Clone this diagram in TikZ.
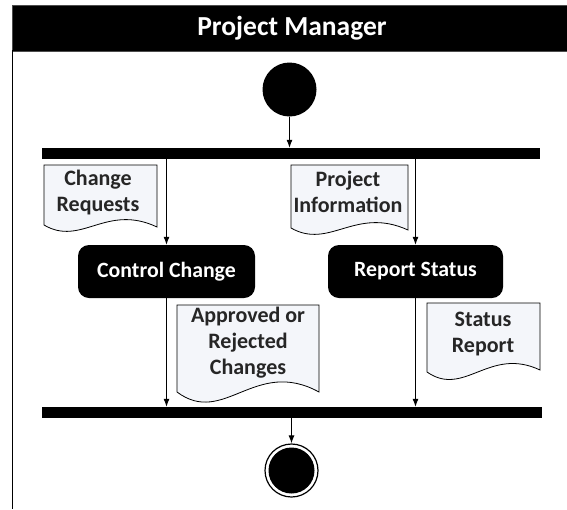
\documentclass[tikz,border=0pt]{standalone}
\usepackage{fontspec}
\setmainfont{Carlito}
\usetikzlibrary{arrows.meta}
\definecolor{docfill}{RGB}{244,246,250}
\tikzset{
  arr/.style={-{Latex[length=8pt,width=6pt]}, line width=1pt},
  bar/.style={fill=black, draw=none, inner sep=0pt},
  act/.style={fill=black, draw=none, rounded corners=11pt, text=white, font=\bfseries\fontsize{21.8}{24}\selectfont, minimum height=53pt, inner sep=0pt},
  docshape/.style={draw=black, line width=0.8pt, fill=docfill},
  doctext/.style={font=\bfseries\fontsize{22}{26}\selectfont, align=center, inner sep=0pt, text=black!85},
}
\newcommand{\docpath}[6]{% x1 x2 top yleft yright amp
  \pgfmathsetmacro{\dw}{#2-#1}
  \draw[docshape] (#1,#3) -- (#2,#3) -- (#2,#5)
    .. controls ({#1+0.55*\dw},{#4-#6}) and ({#1+0.33*\dw},{#4+#6}) .. (#1,#4) -- cycle;
}
\begin{document}
\begin{tikzpicture}[x=1pt,y=-1pt]
\useasboundingbox (0,0) rectangle (567,509);
% header
\node[fill=black, draw=gray!60!black, line width=0.6pt, minimum width=560pt, minimum height=46pt, inner sep=0pt, anchor=north west] (hdr) at (11.5,5) {};
\node[text=white, font=\bfseries\fontsize{27.5}{30}\selectfont] (title) at (292,28) {Project Manager};
\draw[line width=1.4pt] (12.2,50) -- (12.2,509);
% start
\node[circle, fill=black, minimum size=54pt, inner sep=0pt] (start) at (289.5,89.5) {};
% fork and join
\node[bar, minimum width=498pt, minimum height=11pt] (fork) at (291,153.5) {};
\node[bar, minimum width=500pt, minimum height=11pt] (join) at (292,412.5) {};
% activities
\node[act, minimum width=177pt] (cc) at (166.5,271.5) {Control Change};
\node[act, minimum width=175pt] (rs) at (415.5,271.5) {Report Status};
% end
\node[circle, draw=black, line width=1.2pt, fill=white, minimum size=53pt, inner sep=0pt] (end) at (291.5,470.5) {};
\node[circle, fill=black, minimum size=46pt, inner sep=0pt] (endin) at (end) {};
% documents
\docpath{44}{157}{165}{225}{227}{22}
\node[doctext] (crq) at (98,193) {Change\\Requests};
\docpath{291}{408}{165}{228}{230}{22}
\node[doctext] (pinf) at (348,192) {Project\\Information};
\docpath{177}{319}{305}{392}{392}{35}
\node[doctext] (arc) at (248,343) {Approved or\\Rejected\\Changes};
\docpath{427}{540}{303}{372}{370}{26}
\node[doctext] (srep) at (483,334) {Status\\Report};
% connectors
\draw[arr] (start) -- (start |- fork.north);
\draw[arr] (cc.north |- fork.south) -- (cc.north);
\draw[arr] (rs.north |- fork.south) -- (rs.north);
\draw[arr] (cc.south) -- (cc.south |- join.north);
\draw[arr] (rs.south) -- (rs.south |- join.north);
\draw[arr] (join.south -| end) -- (end);
\end{tikzpicture}
\end{document}
